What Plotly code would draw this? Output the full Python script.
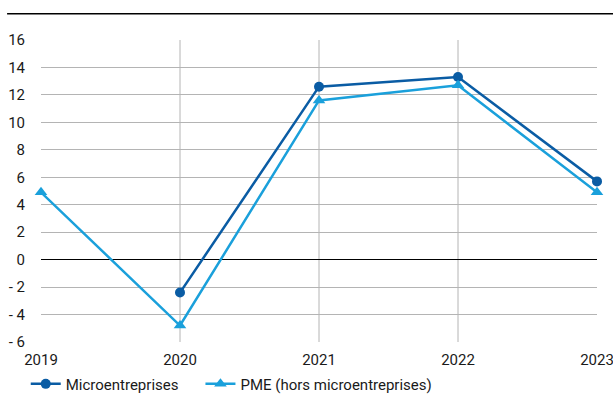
import plotly.graph_objects as go

years = [2019, 2020, 2021, 2022, 2023]
micro_years = [2020, 2021, 2022, 2023]
micro = [-2.4, 12.6, 13.3, 5.7]
pme = [4.9, -4.8, 11.6, 12.7, 4.9]
y_ticks = [-6, -4, -2, 0, 2, 4, 6, 8, 10, 12, 14, 16]
y_labels = ["- 6", "- 4", "- 2", "0", "2", "4", "6", "8", "10", "12", "14", "16"]

dark_blue = "#0a5ca4"
light_blue = "#1aa0db"
font_family = "Roboto, Liberation Sans, Arial, sans-serif"

fig = go.Figure()
fig.add_trace(go.Scatter(
    x=micro_years, y=micro, name="Microentreprises", mode="lines+markers",
    line=dict(color=dark_blue, width=2.5),
    marker=dict(symbol="circle", size=10, color=dark_blue),
    cliponaxis=False, legend="legend",
))
fig.add_trace(go.Scatter(
    x=years, y=pme, name="PME (hors microentreprises)", mode="lines+markers",
    line=dict(color=light_blue, width=2.5),
    marker=dict(symbol="triangle-up", size=11, color=light_blue),
    cliponaxis=False, legend="legend2",
))

# vertical grid only at the inner years
for yr in years[1:-1]:
    fig.add_shape(type="line", xref="x", yref="paper", x0=yr, x1=yr, y0=0, y1=1,
                  line=dict(color="#b4b4b4", width=1), layer="below")

# rule across the top of the chart
fig.add_shape(type="line", xref="paper", yref="paper", x0=-0.061, x1=1.03,
              y0=1.087, y1=1.087, line=dict(color="black", width=1.5))

legend_common = dict(orientation="h", xref="container", yref="container",
                     y=0.03, xanchor="left", yanchor="middle",
                     font=dict(size=15), itemwidth=30, bgcolor="rgba(0,0,0,0)")

fig.update_layout(
    width=613, height=396,
    margin=dict(l=41, r=16, t=40, b=54),
    paper_bgcolor="white", plot_bgcolor="white",
    font=dict(family=font_family, size=15, color="#1a1a1a"),
    showlegend=True,
    legend=dict(x=0.042, **legend_common),
    legend2=dict(x=0.327, **legend_common),
    xaxis=dict(range=[2019, 2023], tickvals=years, ticktext=[str(y) for y in years],
               showgrid=False, zeroline=False, showline=False, ticks="",
               ticklabelstandoff=7, automargin=False, ticklabeloverflow="allow"),
    yaxis=dict(range=[-6, 16], tickvals=y_ticks, ticktext=y_labels,
               showgrid=True, gridcolor="#b4b4b4", gridwidth=1,
               zeroline=True, zerolinecolor="black", zerolinewidth=1,
               showline=False, ticks="", ticklabelstandoff=15, automargin=False),
)

fig.write_html("out.html")
